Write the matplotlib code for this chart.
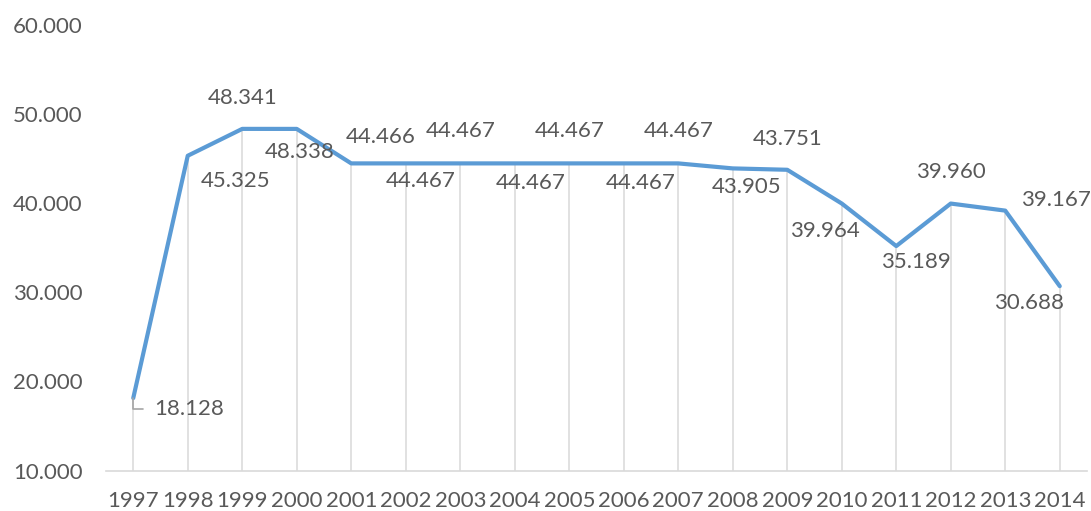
import matplotlib
matplotlib.use("Agg")
from matplotlib import pyplot as plt

years = list(range(1997, 2015))
values = [18.128, 45.325, 48.341, 48.338, 44.466, 44.467, 44.467, 44.467, 44.467,
          44.467, 44.467, 43.905, 43.751, 39.964, 35.189, 39.960, 39.167, 30.688]
y_ticks = [10, 20, 30, 40, 50, 60]

# label offsets in pixels (dx, dy) from each point, as placed in the original
label_offsets = [(21, -11), (48, -25), (0, 31), (3, -23), (29, 26), (15, -18),
                 (0, 32), (16, -20), (0, 32), (17, -20), (0, 32), (14, -19),
                 (0, 31), (-17, -27), (20, -16), (0, 32), (51, 11), (-31, -17)]

text_col = '#595959'
line_col = '#5B9BD5'
grid_col = '#D9D9D9'
fs = 16
plt.rcParams['font.family'] = ['Lato', 'DejaVu Sans']

fig = plt.figure(figsize=(10.91, 5.11), dpi=100)
ax = fig.add_axes([106/1091, 1 - 470.5/511, 981/1091, 445.5/511])

ax.vlines(years, 10, values, color=grid_col, lw=1.1, zorder=1)
ax.plot(years, values, color=line_col, lw=3, solid_capstyle='round', zorder=3)

for i, (yr, v) in enumerate(zip(years, values)):
    dx, dy = label_offsets[i]
    if i == 0:
        ax.annotate(f"{v:.3f}", xy=(yr, v), xytext=(dx, dy), textcoords='offset pixels',
                    ha='left', va='center', fontsize=fs, color=text_col,
                    arrowprops=dict(arrowstyle='-', color='#A6A6A6', lw=1.2,
                                    connectionstyle='angle,angleA=0,angleB=90,rad=0',
                                    relpos=(0, 0.5), shrinkA=6, shrinkB=0))
    else:
        ax.annotate(f"{v:.3f}", xy=(yr, v), xytext=(dx, dy), textcoords='offset pixels',
                    ha='center', va='center', fontsize=fs, color=text_col)

ax.set_xlim(1996.5, 2014.5)
ax.set_ylim(10, 60)
ax.set_xticks(years)
ax.set_xticklabels([str(y) for y in years])
ax.set_yticks(y_ticks)
ax.set_yticklabels([f"{t:.3f}" for t in y_ticks])
ax.tick_params(axis='both', length=0, labelsize=fs, labelcolor=text_col)
ax.tick_params(axis='y', pad=17)
ax.tick_params(axis='x', pad=15)
for s in ['top', 'right', 'left']:
    ax.spines[s].set_visible(False)
ax.spines['bottom'].set_color(grid_col)
ax.spines['bottom'].set_linewidth(1.2)

fig.savefig('out.png', dpi=100)
